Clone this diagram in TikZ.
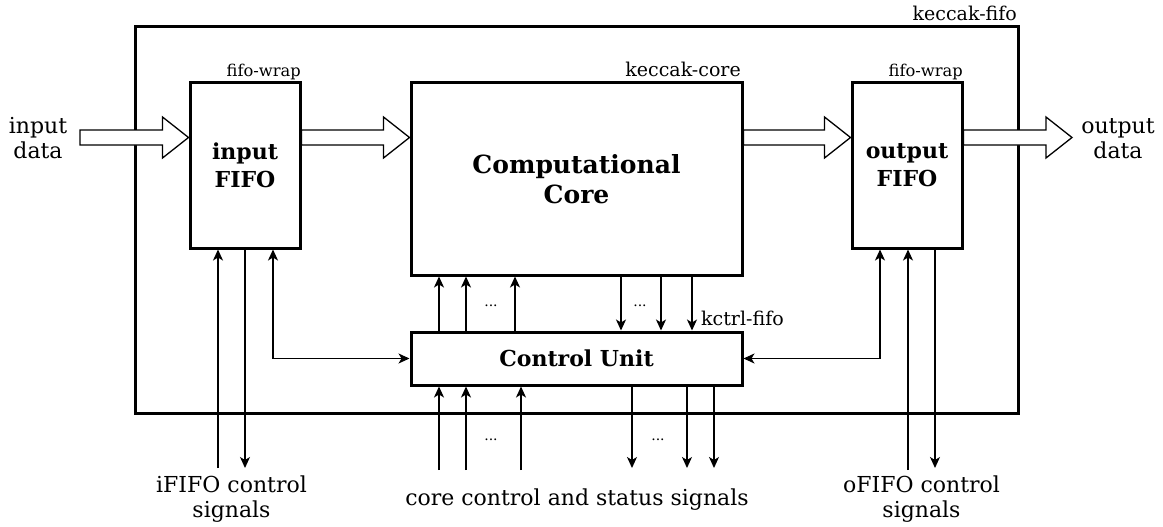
\documentclass[tikz,border=0pt]{standalone}
\usepackage{fontspec}
\setmainfont{DejaVu Serif}
\usetikzlibrary{arrows.meta,calc}
\tikzset{
  blk/.style={draw, line width=3pt, inner sep=0pt, align=center, fill=white},
  bigtxt/.style={font=\bfseries\fontsize{22}{28}\selectfont},
  sig/.style={line width=1.4pt, -{Stealth[length=11pt,width=10pt,inset=3pt]}},
  dsig/.style={line width=1.4pt, {Stealth[length=11pt,width=10pt,inset=3pt]}-{Stealth[length=11pt,width=10pt,inset=3pt]}},
  fat/.style={draw, line width=1.3pt, fill=white, line join=miter},
  lbl/.style={font=\fontsize{22}{25}\selectfont, align=center, inner sep=0pt},
  tag/.style={font=\fontsize{19}{21}\selectfont, inner sep=0pt},
  smalltag/.style={font=\fontsize{16.3}{18}\selectfont, inner sep=0pt},
  dots/.style={font=\fontsize{14}{16}\selectfont, inner sep=0pt}
}
\newcommand\fatarr[2]{%
  \draw[fat] let \p1=#1, \p2=#2 in
    (\x1,\y1+7.5pt) -- (\x2-26pt,\y1+7.5pt) -- (\x2-26pt,\y1+20.5pt) -- (\x2,\y1)
    -- (\x2-26pt,\y1-20.5pt) -- (\x2-26pt,\y1-7.5pt) -- (\x1,\y1-7.5pt) -- cycle;}
\begin{document}
\begin{tikzpicture}[x=1pt,y=-1pt]
\useasboundingbox (0,0) rectangle (1163,527);
% outer box
\node[draw, line width=3pt, inner sep=0pt, minimum width=883, minimum height=386] (outer) at (576.5,220) {};
\node[tag, anchor=base east] (lfifo) at (1017,21) {keccak-fifo};
% blocks
\node[blk, bigtxt, minimum width=110, minimum height=165] (infifo) at (245,165.5) {input\\FIFO};
\node[blk, font=\bfseries\fontsize{25}{30}\selectfont, minimum width=331, minimum height=192] (core) at (576.5,179) {Computational\\Core};
\node[blk, bigtxt, minimum width=110, minimum height=165] (outfifo) at (907,165.5) {output\\FIFO};
\node[blk, bigtxt, minimum width=331, minimum height=53] (ctrl) at (576.5,358.5) {Control Unit};
% block tags
\node[smalltag, anchor=base east] (lwrap1) at (301,77) {fifo-wrap};
\node[tag, anchor=base east] (lcore) at (741,77) {keccak-core};
\node[smalltag, anchor=base east] (lwrap2) at (963,77) {fifo-wrap};
\node[tag, anchor=base west] (lkctrl) at (701,325) {kctrl-fifo};
% data labels
\node[lbl] (lin) at (38,138.5) {input\\data};
\node[lbl] (lout) at (1118,138.5) {output\\data};
% fat data arrows
\coordinate (inS) at (80,137.5);
\coordinate (outE) at (1072,137.5);
\fatarr{(inS)}{(infifo.west |- inS)}
\fatarr{(infifo.east |- inS)}{(core.west |- inS)}
\fatarr{(core.east |- inS)}{(outfifo.west |- inS)}
\fatarr{(outfifo.east |- inS)}{(outE)}
% core <-> control
\foreach \xx/\nm in {439/m1,466/m2,515/m3} {
  \coordinate (\nm) at (\xx,300);
  \draw[sig] (\nm |- ctrl.north) -- (\nm |- core.south);
}
\foreach \xx/\nm in {621/m4,661/m5,692/m6} {
  \coordinate (\nm) at (\xx,300);
  \draw[sig] (\nm |- core.south) -- (\nm |- ctrl.north);
}
\node[dots] (d1) at (491,306) {...};
\node[dots] (d2) at (640,306) {...};
% bottom core control/status
\foreach \xx/\nm in {439/b1,466/b2,521/b3} {
  \coordinate (\nm) at (\xx,470);
  \draw[sig] (\nm) -- (\nm |- ctrl.south);
}
\foreach \xx/\nm in {632/b4,687/b5,714/b6} {
  \coordinate (\nm) at (\xx,468);
  \draw[sig] (\nm |- ctrl.south) -- (\nm);
}
\node[dots] (d3) at (491,440) {...};
\node[dots] (d4) at (658,440) {...};
% input fifo signals
\coordinate (i1) at (218,468);
\coordinate (i2) at (245,468);
\coordinate (i3) at (273,300);
\draw[sig] (i1) -- (i1 |- infifo.south);
\draw[sig] (i2 |- infifo.south) -- (i2);
\draw[dsig] (i3 |- infifo.south) |- (ctrl.west);
% output fifo signals
\coordinate (o1) at (880,300);
\coordinate (o2) at (908,470);
\coordinate (o3) at (935,468);
\draw[dsig] (o1 |- outfifo.south) |- (ctrl.east);
\draw[sig] (o2) -- (o2 |- outfifo.south);
\draw[sig] (o3 |- outfifo.south) -- (o3);
% bottom labels
\node[lbl] (liff) at (231.5,499) {iFIFO control\\signals};
\node[lbl] (lcs) at (577,500) {core control and status signals};
\node[lbl] (loff) at (921.5,499) {oFIFO control\\signals};
\end{tikzpicture}
\end{document}
